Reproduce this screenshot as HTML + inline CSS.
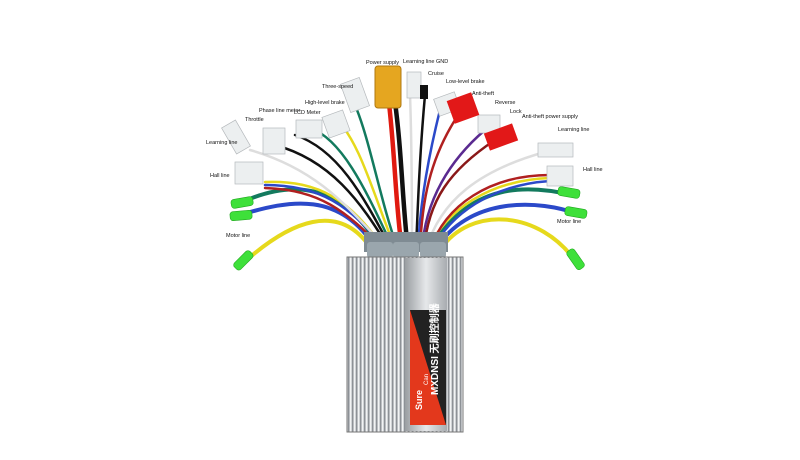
<!DOCTYPE html>
<html><head><meta charset="utf-8"><style>
html,body{margin:0;padding:0;background:#fff;width:800px;height:460px;overflow:hidden}
svg text{font-family:"Liberation Sans",sans-serif;font-size:5.5px;fill:#111}
</style></head><body>
<svg width="800" height="460" viewBox="0 0 800 460" xmlns="http://www.w3.org/2000/svg">
<defs>
<linearGradient id="fin" x1="0" x2="1" y1="0" y2="0">
<stop offset="0" stop-color="#9a9ea2"/><stop offset="0.5" stop-color="#e6e8ea"/><stop offset="1" stop-color="#a8acb0"/>
</linearGradient>
<pattern id="fins" width="4" height="10" patternUnits="userSpaceOnUse">
<rect width="4" height="10" fill="#cfd2d5"/><rect width="1.3" height="10" fill="#8d9196"/><rect x="2" width="1" height="10" fill="#f2f3f4"/>
</pattern>
</defs>
<g fill="none" stroke-linecap="round">
<path d="M240,266 C290,220 340,200 372,250" stroke="#e6d91c" stroke-width="4"/>
<path d="M240,215 C290,200 340,190 377,250" stroke="#2b49c9" stroke-width="4"/>
<path d="M240,203 C290,180 340,180 382,250" stroke="#137a5e" stroke-width="4"/>
<path d="M576,262 C540,210 470,205 440,250" stroke="#e6d91c" stroke-width="4"/>
<path d="M578,214 C540,200 470,195 435,250" stroke="#2b49c9" stroke-width="4"/>
<path d="M572,195 C530,185 470,180 430,250" stroke="#137a5e" stroke-width="4"/>
<path d="M265,182 C320,180 350,200 385,250" stroke="#e6d91c" stroke-width="2.5"/>
<path d="M265,185 C320,185 350,205 386,250" stroke="#2b49c9" stroke-width="2.5"/>
<path d="M265,188 C320,190 345,210 384,250" stroke="#b02020" stroke-width="2.5"/>
<path d="M250,150 C320,170 350,210 388,250" stroke="#ddd" stroke-width="2.5"/>
<path d="M275,145 C330,160 360,200 390,250" stroke="#111" stroke-width="2.5"/>
<path d="M295,135 C340,150 365,200 392,250" stroke="#111" stroke-width="2.5"/>
<path d="M310,128 C345,140 370,200 394,250" stroke="#137a5e" stroke-width="2.5"/>
<path d="M335,118 C360,140 375,200 396,250" stroke="#e6d91c" stroke-width="2.5"/>
<path d="M355,105 C370,140 380,200 398,250" stroke="#137a5e" stroke-width="2.5"/>
<path d="M388,95 C395,150 395,200 402,250" stroke="#e01a10" stroke-width="4.5"/>
<path d="M394,95 C402,150 402,200 408,250" stroke="#111" stroke-width="4.5"/>
<path d="M410,95 C412,150 412,200 412,250" stroke="#ddd" stroke-width="2.5"/>
<path d="M425,95 C420,150 418,200 416,250" stroke="#111" stroke-width="2.5"/>
<path d="M440,110 C430,150 420,200 418,250" stroke="#2b49c9" stroke-width="2.5"/>
<path d="M455,120 C430,160 422,200 420,250" stroke="#b02020" stroke-width="2.5"/>
<path d="M485,130 C450,160 425,200 422,250" stroke="#5a2a90" stroke-width="2.5"/>
<path d="M495,140 C450,170 428,200 424,250" stroke="#8a1818" stroke-width="2.5"/>
<path d="M545,152 C480,170 440,200 426,250" stroke="#ddd" stroke-width="2.5"/>
<path d="M550,178 C490,180 445,210 428,250" stroke="#e6d91c" stroke-width="2.5"/>
<path d="M550,175 C490,175 445,205 430,250" stroke="#b02020" stroke-width="2.5"/>
<path d="M550,181 C490,185 450,215 432,250" stroke="#2b49c9" stroke-width="2.5"/>
</g>
<g fill="#3ee03a" stroke="#22a820" stroke-width="0.6">
<rect x="231" y="198" width="22" height="9" rx="3" transform="rotate(-10 242 202)"/>
<rect x="230" y="211" width="22" height="9" rx="3" transform="rotate(-5 241 215)"/>
<rect x="232" y="256" width="22" height="9" rx="3" transform="rotate(-45 243 260)"/>
<rect x="558" y="188" width="22" height="9" rx="3" transform="rotate(10 569 192)"/>
<rect x="565" y="208" width="22" height="9" rx="3" transform="rotate(10 576 212)"/>
<rect x="565" y="255" width="22" height="9" rx="3" transform="rotate(55 576 259)"/>
</g>
<g fill="#eceff0" stroke="#b5b9bc" stroke-width="0.7">
<rect x="228" y="122" width="16" height="30" transform="rotate(-30 236 137)"/>
<rect x="235" y="162" width="28" height="22"/>
<rect x="263" y="128" width="22" height="26"/>
<rect x="296" y="120" width="26" height="18"/>
<rect x="325" y="113" width="22" height="22" transform="rotate(-20 336 124)"/>
<rect x="345" y="80" width="20" height="30" transform="rotate(-20 355 95)"/>
<rect x="407" y="72" width="14" height="26"/>
<rect x="436" y="95" width="22" height="18" transform="rotate(-20 447 104)"/>
<rect x="478" y="115" width="22" height="18"/>
<rect x="538" y="143" width="35" height="14"/>
<rect x="547" y="166" width="26" height="20"/>
</g>
<rect x="375" y="66" width="26" height="42" rx="3" fill="#e5a620" stroke="#b07810"/>
<rect x="420" y="85" width="8" height="14" fill="#111"/>
<rect x="450" y="96" width="26" height="24" fill="#e21818" transform="rotate(-20 463 108)"/>
<rect x="486" y="128" width="30" height="18" fill="#e21818" transform="rotate(-20 501 137)"/>
<rect x="364" y="232" width="84" height="20" fill="#7f8b93"/>
<rect x="367" y="242" width="26" height="16" rx="3" fill="#9aa6ad"/>
<rect x="393" y="242" width="26" height="16" rx="3" fill="#9aa6ad"/>
<rect x="420" y="242" width="26" height="16" rx="3" fill="#9aa6ad"/>
<rect x="347" y="257" width="116" height="175" fill="url(#fins)" stroke="#777" stroke-width="1"/>
<rect x="405" y="258" width="42" height="173" fill="url(#fin)"/>
<rect x="410" y="310" width="36" height="115" fill="#222"/>
<polygon points="410,310 446,425 410,425" fill="#e3381c"/>
<text transform="translate(422,410) rotate(-90)" style="fill:#fff;font-size:9px;font-weight:bold">Sure</text>
<text transform="translate(428,385) rotate(-90)" style="fill:#fff;font-size:6px">Can</text>
<text transform="translate(438,395) rotate(-90)" style="fill:#fff;font-size:10px;font-weight:bold">MXDNSI 无刷控制器</text>
<text x="366" y="64">Power supply</text>
<text x="403" y="63">Learning line GND</text>
<text x="428" y="75">Cruise</text>
<text x="446" y="83">Low-level brake</text>
<text x="472" y="95">Anti-theft</text>
<text x="495" y="104">Reverse</text>
<text x="510" y="113">Lock</text>
<text x="522" y="118">Anti-theft power supply</text>
<text x="558" y="131">Learning line</text>
<text x="583" y="171">Hall line</text>
<text x="557" y="223">Motor line</text>
<text x="322" y="88">Three-speed</text>
<text x="305" y="104">High-level brake</text>
<text x="294" y="114">LCD Meter</text>
<text x="259" y="112">Phase line meter</text>
<text x="245" y="121">Throttle</text>
<text x="206" y="144">Learning line</text>
<text x="210" y="177">Hall line</text>
<text x="226" y="237">Motor line</text>
</svg>
</body></html>
